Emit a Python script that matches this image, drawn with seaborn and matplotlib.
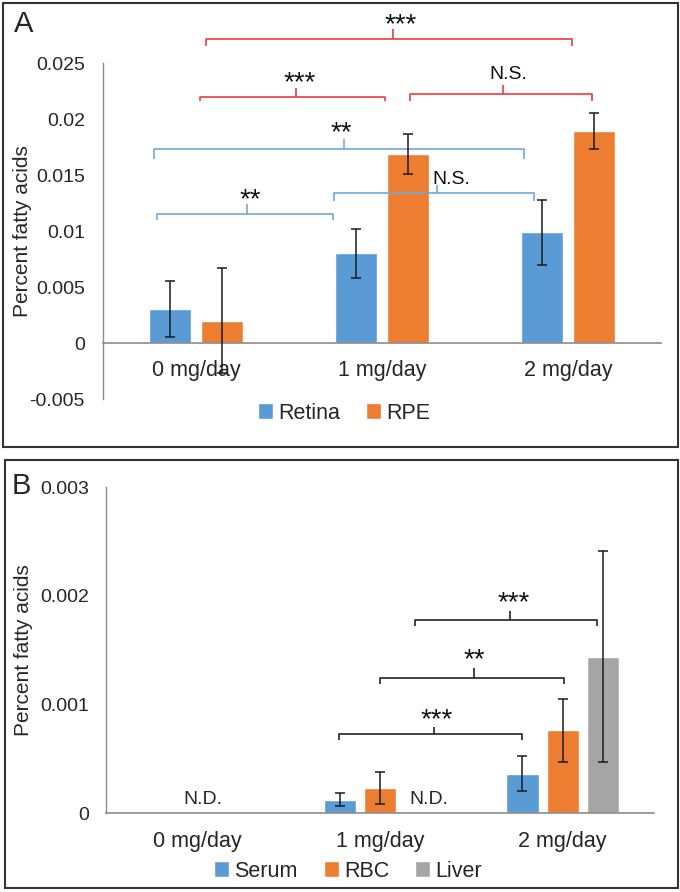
import numpy as np
import pandas as pd
import matplotlib
matplotlib.use("Agg")
import matplotlib.pyplot as plt
from matplotlib.patches import Rectangle
from matplotlib.transforms import offset_copy
import seaborn as sns

# ---------------- data ----------------
doses = ["0 mg/day", "1 mg/day", "2 mg/day"]

tissues_a = ["Retina", "RPE"]
retina = [0.0030, 0.0080, 0.0099]
retina_err = [0.0025, 0.0022, 0.0029]
rpe = [0.0020, 0.0169, 0.0189]
rpe_err = [0.0047, 0.0018, 0.0016]

tissues_b = ["Serum", "RBC", "Liver"]
serum = [np.nan, 0.00012, 0.00036]
serum_err = [0.0, 0.00006, 0.00016]
rbc = [np.nan, 0.00023, 0.00076]
rbc_err = [0.0, 0.00015, 0.00029]
liver = [np.nan, np.nan, 0.00144]
liver_err = [0.0, 0.0, 0.00097]

yticks_a = [-0.005, 0, 0.005, 0.01, 0.015, 0.02, 0.025]
yticklabels_a = ["-0.005", "0", "0.005", "0.01", "0.015", "0.02", "0.025"]
yticks_b = [0, 0.001, 0.002, 0.003]
yticklabels_b = ["0", "0.001", "0.002", "0.003"]

BLUE = "#5B9BD5"
ORANGE = "#ED7D31"
GRAY = "#A5A5A5"
RED_BR = "#EE3B3B"
BLUE_BR = "#6FA8DC"
AXIS_C = "#8C8C8C"

sns.set_style("white")
plt.rcParams["font.family"] = ["Liberation Sans", "DejaVu Sans"]

fig = plt.figure(figsize=(6.8, 8.92), dpi=100)

axA = fig.add_axes([103 / 680, 1 - 399 / 892, (661 - 103) / 680, (399 - 63) / 892])
axB = fig.add_axes([106 / 680, 1 - 813 / 892, (654 - 106) / 680, (813 - 487) / 892])

dfA = pd.DataFrame({
    "dose": doses * 2,
    "tissue": [tissues_a[0]] * 3 + [tissues_a[1]] * 3,
    "value": retina + rpe,
})
dfB = pd.DataFrame({
    "dose": doses * 3,
    "tissue": [tissues_b[0]] * 3 + [tissues_b[1]] * 3 + [tissues_b[2]] * 3,
    "value": serum + rbc + liver,
})

sns.barplot(data=dfA, x="dose", y="value", hue="tissue", order=doses,
            hue_order=tissues_a, palette=[BLUE, ORANGE], width=0.56, gap=0.2,
            errorbar=None, ax=axA, saturation=1)
sns.barplot(data=dfB, x="dose", y="value", hue="tissue", order=doses,
            hue_order=tissues_b, palette=[BLUE, ORANGE, GRAY], width=0.66, gap=0.2,
            errorbar=None, ax=axB, saturation=1)


def add_errors(ax, errs):
    for cont, err in zip(ax.containers, errs):
        for p in cont.patches:
            h = p.get_height()
            if h is None or np.isnan(h):
                continue
            xc = p.get_x() + p.get_width() / 2
            ci = int(round(xc))
            ax.errorbar(xc, h, yerr=err[ci], fmt="none", ecolor="#1a1a1a",
                        elinewidth=1.1, capsize=3.5, capthick=1.1, zorder=5,
                        clip_on=False)


add_errors(axA, [retina_err, rpe_err])
add_errors(axB, [serum_err, rbc_err, liver_err])


def bracket(ax, x0, x1, yh, yend, xc, ytop, label, ly, color, lx=None, fs=14):
    kw = dict(color=color, lw=1.2, clip_on=False, solid_capstyle="butt")
    ax.plot([x0, x0, x1, x1], [yend, yh, yh, yend], **kw)
    ax.plot([xc, xc], [yh, ytop], **kw)
    tx = xc if lx is None else lx
    if label.startswith("*"):
        star_fs = 20
        tr = offset_copy(ax.transData, fig=ax.figure, y=-0.40 * star_fs, units="points")
        ax.text(tx, ly, label, ha="center", va="baseline", fontsize=star_fs,
                color="#111111", clip_on=False, transform=tr)
    else:
        ax.text(tx, ly, label, ha="center", va="center", fontsize=fs,
                color="#111111", clip_on=False)


# Panel A brackets
bracket(axA, 0.054, 2.02, 0.0271, 0.0265, 1.06, 0.0280, "***", 0.0287, RED_BR, lx=1.10)
bracket(axA, 0.02, 1.016, 0.0220, 0.0216, 0.538, 0.0228, "***", 0.0236, RED_BR, lx=0.555)
bracket(axA, 1.15, 2.13, 0.0222, 0.0216, 1.65, 0.0230, "N.S.", 0.0240, RED_BR, lx=1.68)
bracket(axA, -0.226, 1.763, 0.0173, 0.0164, 0.796, 0.0182, "**", 0.0191, BLUE_BR, lx=0.78)
bracket(axA, -0.21, 0.737, 0.0115, 0.0110, 0.274, 0.0124, "**", 0.0131, BLUE_BR, lx=0.29)
bracket(axA, 0.742, 1.817, 0.0134, 0.0127, 1.296, 0.0141, "N.S.", 0.0146, BLUE_BR, lx=1.37)

# Panel B brackets
bracket(axB, 0.775, 1.777, 0.00073, 0.00067, 1.293, 0.00079, "***", 0.00089, "#222222", lx=1.31)
bracket(axB, 1.0, 2.007, 0.00124, 0.00119, 1.514, 0.00133, "**", 0.00144, "#222222")
bracket(axB, 1.19, 2.19, 0.00178, 0.00172, 1.71, 0.00186, "***", 0.00197, "#222222", lx=1.73)

axB.text(0.03, 0.00012, "N.D.", ha="center", va="center", fontsize=14)
axB.text(1.268, 0.00012, "N.D.", ha="center", va="center", fontsize=14)

# axes styling
for ax in (axA, axB):
    ax.set_xlim(-0.5, 2.5)
    ax.set_xlabel("")
    ax.set_ylabel("Percent fatty acids", fontsize=15)
    for s in ("top", "right"):
        ax.spines[s].set_visible(False)
    ax.spines["left"].set_color(AXIS_C)
    ax.spines["bottom"].set_color(AXIS_C)
    ax.spines["left"].set_linewidth(1.0)
    ax.spines["bottom"].set_linewidth(1.2)
    ax.tick_params(axis="both", length=0, labelsize=14)
    ax.set_facecolor("none")

axA.set_ylim(-0.005, 0.025)
axA.set_yticks(yticks_a)
axA.set_yticklabels(yticklabels_a)
axA.spines["bottom"].set_position(("data", 0))
axA.tick_params(axis="y", pad=13)
axA.tick_params(axis="x", pad=12, labelsize=15.5)
axA.yaxis.set_label_coords(-0.128, 0.5)

axB.set_ylim(0, 0.003)
axB.set_yticks(yticks_b)
axB.set_yticklabels(yticklabels_b)
axB.tick_params(axis="y", pad=12)
axB.tick_params(axis="x", pad=13, labelsize=15.5)
axB.yaxis.set_label_coords(-0.133, 0.5)

sns.move_legend(axA, "center", bbox_to_anchor=(0.432, -0.042), ncol=2, title=None,
                frameon=False, fontsize=15.5, handlelength=0.7, handleheight=0.8,
                handletextpad=0.25, columnspacing=1.2, borderpad=0)
sns.move_legend(axB, "center", bbox_to_anchor=(0.442, -0.178), ncol=3, title=None,
                frameon=False, fontsize=15.5, handlelength=0.7, handleheight=0.8,
                handletextpad=0.25, columnspacing=1.2, borderpad=0)

# panel borders and letters
fig.add_artist(Rectangle((3 / 680, 1 - 447 / 892), 675 / 680, 444 / 892,
                         transform=fig.transFigure, fill=False, ec="#333333", lw=1.5))
fig.add_artist(Rectangle((5 / 680, 1 - 888 / 892), 673 / 680, 428 / 892,
                         transform=fig.transFigure, fill=False, ec="#333333", lw=1.5))
fig.text(14 / 680, 1 - 24 / 892, "A", fontsize=21, va="center", ha="left")
fig.text(12 / 680, 1 - 486 / 892, "B", fontsize=21, va="center", ha="left")

fig.savefig("out.png", dpi=100)
